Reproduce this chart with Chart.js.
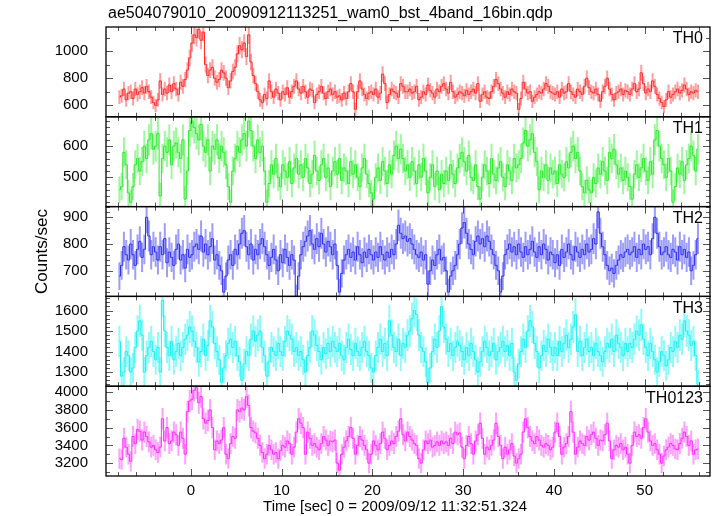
<!DOCTYPE html>
<html><head><meta charset="utf-8">
<script src="https://cdn.jsdelivr.net/npm/chart.js@4.4.0/dist/chart.umd.min.js"></script>
<style>html,body{margin:0;padding:0;background:#fff;}#wrap{width:717px;height:516px;position:relative;}canvas{display:block;}</style>
</head><body><div id="wrap"><canvas id="c" width="717" height="516"></canvas></div>
<script>
const TITLE = "ae504079010_20090912113251_wam0_bst_4band_16bin.qdp";
const X_TITLE = "Time [sec] 0 = 2009/09/12 11:32:51.324";
const Y_TITLE = "Counts/sec";
const BANDS = ["TH0", "TH1", "TH2", "TH3", "TH0123"];
const T_START = -8, BIN = 0.25; // 0.25 s bins (16 x 1/64 s)

const th0 = [
 660,670,720,640,690,700,650,720,680,700,730,690,740,700,660,620,
 600,640,780,680,720,690,750,700,760,720,680,770,740,790,860,950,
 1060,1120,1100,1160,1080,1140,900,820,860,880,800,770,790,860,840,800,
 730,780,850,880,980,1040,1010,1060,960,1120,920,820,760,700,640,620,
 680,650,780,700,660,720,690,640,700,680,730,660,700,740,780,720,
 690,740,700,660,720,710,620,680,700,740,690,650,700,720,680,700,
 660,670,640,690,650,700,760,700,570,700,780,720,680,650,690,700,
 680,720,660,690,830,760,620,680,720,700,690,660,760,740,700,700,
 720,690,700,740,640,660,700,680,750,710,690,660,720,700,740,760,
 720,690,770,700,660,680,700,690,670,710,680,700,720,690,760,630,
 680,700,660,650,700,740,790,760,720,690,660,700,680,720,700,690,
 570,650,770,720,690,700,630,660,680,700,690,720,760,740,700,690,
 680,700,660,720,690,700,760,700,680,660,720,700,680,740,800,730,
 700,690,720,680,630,700,740,800,720,680,640,690,700,720,680,710,
 700,680,720,760,700,720,840,760,690,720,700,780,740,680,650,620,
 590,640,700,660,680,700,720,690,710,750,720,680,700,690,710,700
];
const th1 = [
 460,470,580,540,450,420,470,540,560,520,550,600,560,620,640,590,
 600,640,440,560,600,580,620,540,600,610,580,560,620,430,520,650,
 680,660,640,620,670,600,580,620,520,600,590,620,560,600,580,540,
 470,420,520,560,600,580,620,640,600,680,650,600,560,620,580,600,
 520,420,480,540,510,560,500,470,540,520,500,550,480,530,560,510,
 540,500,560,530,480,510,570,520,490,540,560,500,530,470,520,550,
 510,560,490,530,520,480,550,510,540,500,470,530,560,510,480,450,
 430,500,530,490,550,520,480,540,510,570,600,560,590,560,520,540,
 500,550,520,480,540,500,560,520,450,500,540,470,520,460,510,480,
 520,490,540,510,480,530,560,580,550,520,570,500,490,540,470,430,
 500,540,520,480,560,510,490,530,550,500,470,540,520,490,560,530,
 540,560,610,650,600,620,640,580,550,460,520,500,540,490,530,510,
 520,480,540,510,500,550,530,580,600,560,580,520,470,450,490,460,
 450,500,480,530,510,550,520,490,580,560,590,540,510,530,490,520,
 500,470,430,510,540,500,530,560,520,490,550,510,620,650,600,560,
 540,500,560,520,420,470,530,510,550,490,540,560,600,570,520,590
];
const th2 = [
 680,720,790,760,740,800,760,720,780,810,750,780,900,830,760,790,
 770,740,790,760,820,730,770,750,720,780,800,740,760,710,780,750,
 760,790,800,780,830,770,800,760,790,820,740,760,720,700,620,680,
 740,760,720,780,760,800,840,850,790,760,800,740,780,760,800,820,
 790,760,720,750,780,740,700,760,730,780,750,720,760,740,600,680,
 760,790,810,830,850,800,780,820,790,840,800,770,810,790,760,800,
 720,620,690,740,760,780,750,770,740,790,760,730,770,750,780,760,
 740,770,750,790,760,740,770,750,780,760,800,870,840,820,830,810,
 820,800,780,760,750,770,740,760,650,700,740,720,760,780,740,750,
 700,620,680,700,720,760,800,860,880,840,800,780,760,810,830,800,
 820,790,830,810,780,760,720,700,620,680,760,780,800,770,790,760,
 800,770,750,790,760,780,810,770,750,790,760,800,780,740,770,760,
 730,760,720,780,750,770,800,760,740,790,770,750,780,760,800,770,
 780,820,800,920,840,790,760,720,700,710,690,720,740,760,750,770,
 780,760,770,790,750,780,760,800,780,790,760,820,900,840,790,760,
 770,790,760,750,780,770,740,790,760,780,750,770,700,720,760,820
];
const th3 = [
 1450,1280,1300,1400,1380,1300,1320,1420,1500,1550,1480,1300,1380,1420,1450,1400,
 1360,1420,1300,1650,1500,1420,1380,1450,1360,1400,1440,1380,1420,1460,1480,1520,
 1500,1450,1420,1350,1400,1460,1380,1430,1550,1520,1440,1400,1360,1250,1320,1380,
 1440,1460,1420,1450,1380,1350,1260,1340,1400,1380,1460,1500,1450,1480,1500,1420,
 1380,1280,1350,1420,1400,1380,1440,1400,1380,1450,1500,1480,1460,1400,1420,1380,
 1400,1360,1300,1380,1420,1500,1480,1430,1400,1360,1420,1390,1440,1400,1450,1420,
 1400,1440,1380,1360,1420,1460,1410,1380,1440,1400,1380,1420,1450,1400,1380,1320,
 1300,1380,1420,1460,1400,1440,1380,1550,1480,1420,1400,1460,1380,1440,1420,1480,
 1500,1560,1600,1580,1480,1420,1400,1350,1250,1320,1400,1460,1420,1500,1620,1520,
 1460,1400,1440,1380,1420,1450,1430,1400,1360,1420,1380,1440,1400,1360,1300,1350,
 1400,1450,1420,1380,1400,1440,1360,1400,1420,1450,1400,1430,1380,1440,1300,1260,
 1340,1400,1460,1420,1500,1550,1520,1440,1400,1320,1380,1430,1400,1460,1420,1380,
 1420,1380,1450,1400,1440,1480,1420,1460,1520,1580,1400,1450,1380,1420,1460,1400,
 1420,1380,1440,1400,1380,1350,1400,1440,1420,1460,1400,1480,1440,1420,1380,1440,
 1400,1440,1420,1460,1500,1480,1530,1460,1420,1380,1440,1400,1360,1300,1350,1400,
 1380,1330,1360,1420,1400,1450,1420,1480,1460,1550,1500,1480,1430,1450,1380,1240
];
const th0123 = [
 3250,3240,3480,3380,3300,3220,3500,3420,3580,3560,3460,3550,3500,3440,3380,3400,
 3350,3320,3380,3700,3450,3600,3420,3450,3550,3520,3400,3550,3480,3300,3780,3900,
 3920,4020,4050,3880,3950,3700,3650,3680,3800,3600,3350,3450,3420,3460,3600,3300,
 3250,3420,3500,3480,3800,3780,3820,3800,3950,3850,3600,3560,3540,3480,3400,3320,
 3250,3300,3400,3350,3300,3320,3250,3340,3400,3380,3450,3420,3300,3380,3550,3700,
 3650,3600,3300,3550,3480,3400,3420,3380,3350,3420,3500,3460,3400,3450,3440,3460,
 3200,3120,3300,3380,3450,3500,3600,3480,3300,3400,3500,3460,3400,3350,3200,3300,
 3450,3400,3350,3420,3550,3480,3350,3400,3450,3420,3500,3560,3700,3520,3450,3550,
 3500,3460,3420,3400,3250,3200,3350,3450,3420,3460,3380,3400,3440,3400,3450,3420,
 3440,3400,3480,3420,3550,3520,3540,3380,3250,3400,3500,3420,3300,3450,3520,3650,
 3480,3300,3380,3350,3400,3460,3650,3500,3400,3250,3380,3300,3350,3420,3280,3200,
 3250,3300,3550,3700,3600,3500,3450,3420,3500,3460,3400,3380,3420,3400,3350,3380,
 3550,3650,3500,3300,3380,3420,3500,3780,3550,3300,3380,3450,3420,3400,3500,3460,
 3520,3550,3480,3400,3460,3450,3520,3650,3450,3250,3350,3400,3380,3420,3350,3380,
 3300,3200,3400,3550,3500,3520,3480,3600,3700,3550,3450,3400,3420,3350,3300,3200,
 3280,3350,3380,3420,3400,3360,3350,3420,3480,3550,3500,3400,3450,3300,3350,3360
];
const SERIES = [th0, th1, th2, th3, th0123];

const X_TICKS = [0, 10, 20, 30, 40, 50];
const Y_TICKS = [[600, 800, 1000], [500, 600], [700, 800, 900], [1300, 1400, 1500, 1600], [3200, 3400, 3600, 3800, 4000]];
const Y_RANGES = [[515, 1178], [406, 694], [604, 940], [1231, 1669], [3055, 4067]];
const Y_MINOR = [100, 20, 20, 20, 100];
const X_RANGE = [-9.35, 57.2];

const LINE_COLORS = ['rgb(255,40,40)', 'rgb(40,235,40)', 'rgb(45,45,240)', 'rgb(30,240,240)', 'rgb(255,40,255)'];
const ERR_COLORS = ['rgba(255,60,60,0.5)', 'rgba(60,240,60,0.5)', 'rgba(60,60,245,0.5)', 'rgba(50,245,245,0.55)', 'rgba(255,70,255,0.5)'];
const FONT = "'Liberation Sans', Arial, Helvetica, sans-serif";

const TIMES = SERIES[0].map((_, i) => T_START + BIN * (i + 0.5));

const datasets = [];
SERIES.forEach((vals, k) => {
  datasets.push({
    type: 'bar', yAxisID: 'y' + k, grouped: false, order: 2,
    data: vals.map((v, i) => { const e = 2 * Math.sqrt(v); return {x: TIMES[i], y: [v - e, v + e]}; }),
    backgroundColor: ERR_COLORS[k], borderWidth: 0, barThickness: 2, inflateAmount: 0
  });
  datasets.push({
    type: 'line', yAxisID: 'y' + k, order: 1,
    data: vals.map((v, i) => ({x: TIMES[i], y: v})),
    borderColor: LINE_COLORS[k], borderWidth: 1, pointRadius: 0, stepped: 'middle', tension: 0, fill: false
  });
});

const scales = {
  x: {
    type: 'linear', position: 'bottom', min: X_RANGE[0], max: X_RANGE[1], offset: false,
    grid: {display: false, drawTicks: false, offset: false}, border: {display: false},
    afterBuildTicks: s => { s.ticks = X_TICKS.map(v => ({value: v})); },
    afterFit: s => { s.height = 40; },
    ticks: {autoSkip: false, maxRotation: 0, color: '#000', padding: 6, font: {family: FONT, size: 15},
            callback: v => String(v)}
  }
};
BANDS.forEach((b, k) => {
  scales['y' + k] = {
    type: 'linear', position: 'left', stack: 'panels', stackWeight: 1, weight: 10 - k,
    min: Y_RANGES[k][0], max: Y_RANGES[k][1], offset: false, beginAtZero: false,
    grid: {display: false, drawTicks: false}, border: {display: false},
    afterBuildTicks: s => { s.ticks = Y_TICKS[k].map(v => ({value: v})); },
    afterFit: s => { s.width = 106; },
    ticks: {autoSkip: false, color: '#000', padding: 18, font: {family: FONT, size: 15},
            callback: v => String(v)}
  };
});

const deco = {
  id: 'deco',
  beforeDatasetDraw(chart, args) {
    const ys = chart.scales[args.meta.yAxisID], ca = chart.chartArea, ctx = chart.ctx;
    ctx.save();
    ctx.beginPath();
    ctx.rect(ca.left, ys.top, ca.right - ca.left, ys.bottom - ys.top);
    ctx.clip();
  },
  afterDatasetDraw(chart) { chart.ctx.restore(); },
  afterDraw(chart) {
    const ctx = chart.ctx, ca = chart.chartArea, xs = chart.scales.x;
    ctx.save();
    ctx.strokeStyle = '#555';
    ctx.lineWidth = 1;
    BANDS.forEach((b, k) => {
      const ys = chart.scales['y' + k];
      const top = ys.top, bot = ys.bottom;
      ctx.beginPath();
      for (let v = Math.ceil(xs.min / 2) * 2; v <= xs.max; v += 2) {
        const px = Math.round(xs.getPixelForValue(v)) + 0.5;
        const len = (Math.abs(v) % 10 === 0) ? 7 : 4;
        ctx.moveTo(px, top); ctx.lineTo(px, top + len);
        ctx.moveTo(px, bot); ctx.lineTo(px, bot - len);
      }
      const step = Y_MINOR[k];
      for (let v = Math.ceil(ys.min / step) * step; v <= ys.max; v += step) {
        const py = Math.round(ys.getPixelForValue(v)) + 0.5;
        const len = Y_TICKS[k].includes(v) ? 7 : 4;
        ctx.moveTo(ca.left, py); ctx.lineTo(ca.left + len, py);
        ctx.moveTo(ca.right, py); ctx.lineTo(ca.right - len, py);
      }
      ctx.stroke();
    });
    // frames
    ctx.strokeStyle = '#000';
    ctx.lineWidth = 1.3;
    BANDS.forEach((b, k) => {
      const ys = chart.scales['y' + k];
      ctx.strokeRect(ca.left, ys.top, ca.right - ca.left, ys.bottom - ys.top);
    });
    // panel labels
    ctx.fillStyle = '#000';
    ctx.font = '16px ' + FONT;
    ctx.textAlign = 'right';
    ctx.textBaseline = 'top';
    BANDS.forEach((b, k) => {
      const ys = chart.scales['y' + k];
      ctx.fillText(b, ca.right - 7, ys.top + 4);
    });
    // title
    ctx.textAlign = 'left';
    ctx.textBaseline = 'middle';
    ctx.font = '16px ' + FONT;
    ctx.fillText(TITLE, 108, 14);
    // x title
    ctx.textAlign = 'center';
    ctx.font = '15px ' + FONT;
    ctx.fillText(X_TITLE, 395, 507);
    // y title
    ctx.save();
    ctx.translate(42, (ca.top + ca.bottom) / 2);
    ctx.rotate(-Math.PI / 2);
    ctx.font = '17px ' + FONT;
    ctx.fillText(Y_TITLE, 0, 0);
    ctx.restore();
    ctx.restore();
  }
};

new Chart(document.getElementById('c'), {
  type: 'line',
  data: {datasets},
  options: {
    responsive: false, animation: false, devicePixelRatio: 1,
    layout: {padding: {top: 27, right: 7, left: 0, bottom: 0}},
    plugins: {legend: {display: false}, tooltip: {enabled: false}, title: {display: false}},
    scales
  },
  plugins: [deco]
});
</script></body></html>
